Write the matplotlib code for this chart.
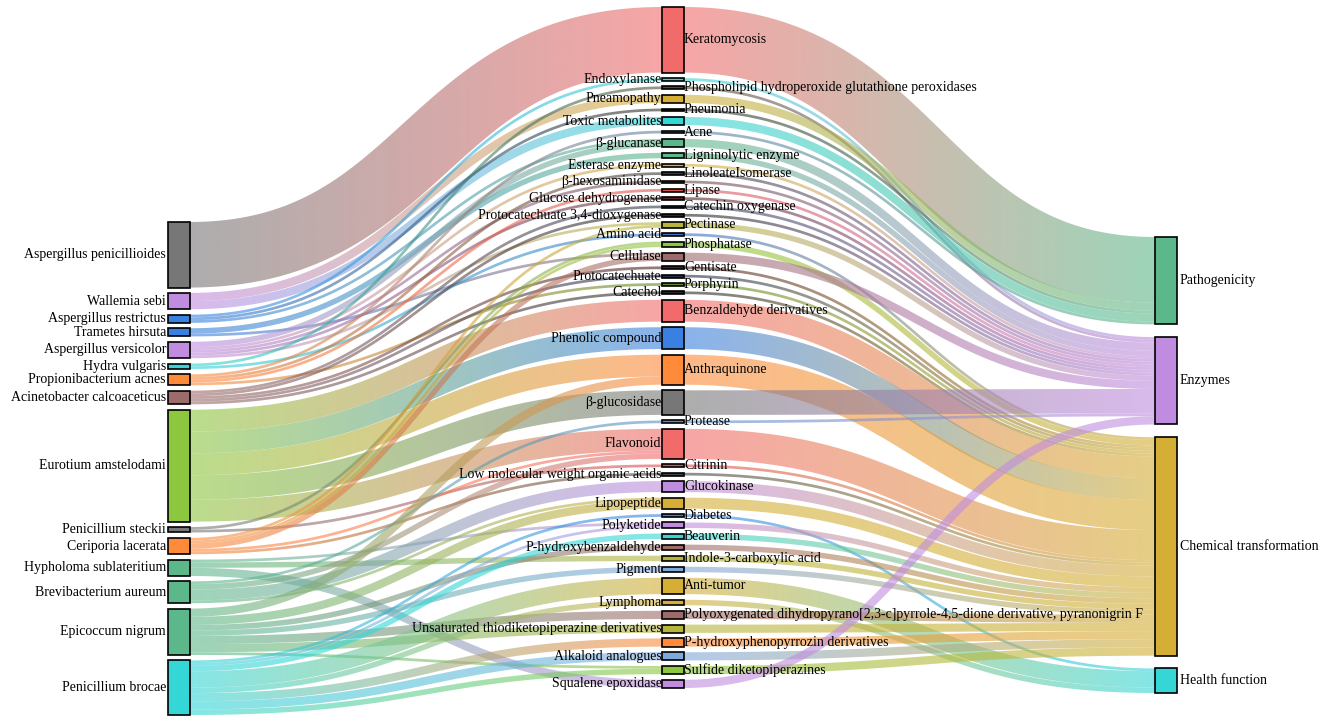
import numpy as np
import matplotlib
matplotlib.use("Agg")
import matplotlib.pyplot as plt
from matplotlib.path import Path
from matplotlib.patches import PathPatch, Rectangle
from matplotlib.colors import to_rgb

# ---------------- data ----------------
left_nodes = ["Aspergillus penicillioides", "Wallemia sebi", "Aspergillus restrictus",
              "Trametes hirsuta", "Aspergillus versicolor", "Hydra vulgaris",
              "Propionibacterium acnes", "Acinetobacter calcoaceticus", "Eurotium amstelodami",
              "Penicillium steckii", "Ceriporia lacerata", "Hypholoma sublateritium",
              "Brevibacterium aureum", "Epicoccum nigrum", "Penicillium brocae"]

middle_nodes = ["Keratomycosis", "Endoxylanase", "Phospholipid hydroperoxide glutathione peroxidases",
                "Pneamopathy", "Pneumonia", "Toxic metabolites", "Acne", "β-glucanase",
                "Ligninolytic enzyme", "Esterase enzyme", "LinoleateIsomerase", "β-hexosaminidase",
                "Lipase", "Glucose dehydrogenase", "Catechin oxygenase",
                "Protocatechuate 3,4-dioxygenase", "Pectinase", "Amino acid", "Phosphatase",
                "Cellulase", "Gentisate", "Protocatechuate", "Porphyrin", "Catechol",
                "Benzaldehyde derivatives", "Phenolic compound", "Anthraquinone", "β-glucosidase",
                "Protease", "Flavonoid", "Citrinin", "Low molecular weight organic acids",
                "Glucokinase", "Lipopeptide", "Diabetes", "Polyketide", "Beauverin",
                "P-hydroxybenzaldehyde", "Indole-3-carboxylic acid", "Pigment", "Anti-tumor",
                "Lymphoma",
                "Polyoxygenated dihydropyrano[2,3-c]pyrrole-4,5-dione derivative, pyranonigrin F",
                "Unsaturated thiodiketopiperazine derivatives", "P-hydroxyphenopyrrozin derivatives",
                "Alkaloid analogues", "Sulfide diketopiperazines", "Squalene epoxidase"]

right_nodes = ["Pathogenicity", "Enzymes", "Chemical transformation", "Health function"]

# organism -> item flows
flow_source = ["Aspergillus penicillioides",
               "Wallemia sebi", "Wallemia sebi",
               "Aspergillus restrictus", "Aspergillus restrictus", "Aspergillus restrictus",
               "Trametes hirsuta", "Trametes hirsuta",
               "Aspergillus versicolor", "Aspergillus versicolor", "Aspergillus versicolor",
               "Aspergillus versicolor", "Aspergillus versicolor",
               "Hydra vulgaris", "Hydra vulgaris",
               "Propionibacterium acnes", "Propionibacterium acnes", "Propionibacterium acnes",
               "Propionibacterium acnes",
               "Acinetobacter calcoaceticus", "Acinetobacter calcoaceticus",
               "Acinetobacter calcoaceticus", "Acinetobacter calcoaceticus",
               "Acinetobacter calcoaceticus",
               "Eurotium amstelodami", "Eurotium amstelodami", "Eurotium amstelodami",
               "Eurotium amstelodami", "Eurotium amstelodami",
               "Penicillium steckii", "Penicillium steckii",
               "Ceriporia lacerata", "Ceriporia lacerata", "Ceriporia lacerata",
               "Ceriporia lacerata", "Ceriporia lacerata",
               "Hypholoma sublateritium", "Hypholoma sublateritium", "Hypholoma sublateritium",
               "Brevibacterium aureum", "Brevibacterium aureum", "Brevibacterium aureum",
               "Brevibacterium aureum",
               "Epicoccum nigrum", "Epicoccum nigrum", "Epicoccum nigrum", "Epicoccum nigrum",
               "Epicoccum nigrum", "Epicoccum nigrum", "Epicoccum nigrum",
               "Penicillium brocae", "Penicillium brocae", "Penicillium brocae",
               "Penicillium brocae", "Penicillium brocae", "Penicillium brocae",
               "Penicillium brocae", "Penicillium brocae"]
flow_target = ["Keratomycosis",
               "Pneamopathy", "Toxic metabolites",
               "Endoxylanase", "Pneumonia", "β-glucanase",
               "Ligninolytic enzyme", "Cellulase",
               "β-glucanase", "Esterase enzyme", "β-hexosaminidase", "Glucose dehydrogenase",
               "Pectinase",
               "Phospholipid hydroperoxide glutathione peroxidases", "Amino acid",
               "Acne", "LinoleateIsomerase", "Lipase", "Porphyrin",
               "Catechin oxygenase", "Protocatechuate 3,4-dioxygenase", "Gentisate",
               "Protocatechuate", "Catechol",
               "Benzaldehyde derivatives", "Phenolic compound", "Anthraquinone", "β-glucosidase",
               "Flavonoid",
               "Phosphatase", "Citrinin",
               "Pectinase", "Phosphatase", "Cellulase", "Flavonoid",
               "Low molecular weight organic acids",
               "Polyketide", "Indole-3-carboxylic acid", "Squalene epoxidase",
               "Protease", "Flavonoid", "Glucokinase", "Lipopeptide",
               "Anthraquinone", "Lipopeptide", "P-hydroxybenzaldehyde", "Pigment",
               "Polyoxygenated dihydropyrano[2,3-c]pyrrole-4,5-dione derivative, pyranonigrin F",
               "Unsaturated thiodiketopiperazine derivatives", "Sulfide diketopiperazines",
               "Diabetes", "Polyketide", "Beauverin", "Anti-tumor", "Lymphoma",
               "P-hydroxyphenopyrrozin derivatives", "Alkaloid analogues",
               "Sulfide diketopiperazines"]
flow_value = [24,
              3, 3,
              1, 1, 1,
              2, 1,
              2, 1, 1, 1, 1,
              1, 1,
              1, 1, 1, 1,
              1, 1, 1, 1, 1,
              8, 8, 8, 9, 8,
              1, 1,
              1, 1, 2, 1, 1,
              1, 2, 3,
              1, 2, 4, 1,
              3, 3, 2, 2, 3, 3, 1,
              1, 1, 2, 6, 2, 3, 3, 2]

# item -> category (whole item flows into its category)
middle_category = ["Pathogenicity", "Enzymes", "Enzymes", "Pathogenicity", "Pathogenicity",
                   "Pathogenicity", "Pathogenicity", "Enzymes", "Enzymes", "Enzymes", "Enzymes",
                   "Enzymes", "Enzymes", "Enzymes", "Enzymes", "Enzymes", "Enzymes",
                   "Chemical transformation", "Chemical transformation", "Enzymes",
                   "Chemical transformation", "Chemical transformation", "Chemical transformation",
                   "Chemical transformation", "Chemical transformation", "Chemical transformation",
                   "Chemical transformation", "Enzymes", "Enzymes", "Chemical transformation",
                   "Chemical transformation", "Chemical transformation", "Chemical transformation",
                   "Chemical transformation", "Health function", "Chemical transformation",
                   "Chemical transformation", "Chemical transformation", "Chemical transformation",
                   "Chemical transformation", "Health function", "Health function",
                   "Chemical transformation", "Chemical transformation", "Chemical transformation",
                   "Chemical transformation", "Chemical transformation", "Enzymes"]

# ---------------- styles ----------------
GREY, PURPLE, BLUE, CYAN = "#777777", "#c08ce0", "#3a80e0", "#34d6d6"
ORANGE, BROWN, YGREEN, GREEN = "#ff8a3a", "#9e6b6b", "#8dc63f", "#5cb88a"
RED, GOLD, OLIVE, LBLUE = "#f26b6b", "#d4ae35", "#b5b53a", "#7fa8dc"

left_colors = [GREY, PURPLE, BLUE, BLUE, PURPLE, CYAN, ORANGE, BROWN, YGREEN, GREY,
               ORANGE, GREEN, GREEN, GREEN, CYAN]
middle_colors = [RED, CYAN, "#4d4d2e", GOLD, "#2e2e22", CYAN, "#5b7fa6", GREEN, GREEN, GOLD,
                 "#3a3a3a", "#6e4a4a", "#e05050", "#5a2424", "#2e3a4e", "#262626", OLIVE,
                 "#3a70c0", YGREEN, BROWN, "#4a2222", "#22304a", "#5e8a24", "#262626",
                 RED, BLUE, ORANGE, GREY, "#5b8fc6", RED, "#e05050", "#444444", PURPLE,
                 GOLD, BLUE, PURPLE, CYAN, BROWN, OLIVE, LBLUE, GOLD, GOLD, BROWN, OLIVE,
                 ORANGE, LBLUE, YGREEN, PURPLE]
right_colors = [GREEN, PURPLE, GOLD, CYAN]

W, H = 1325, 722
col_x = [168, 662, 1155]
node_w = 21.5
col_extent = [(222, 715), (7, 688), (237, 693)]
min_pad = 5.6
link_alpha = 0.6
FONT = "Liberation Serif"
FS = 10

# ---------------- layout ----------------
columns = [left_nodes, middle_nodes, right_nodes]
colors = [left_colors, middle_colors, right_colors]
idx = {}
for c, names in enumerate(columns):
    for i, n in enumerate(names):
        idx[n] = (c, i)

links = []  # (src, dst, value)
for s, t, v in zip(flow_source, flow_target, flow_value):
    links.append((s, t, v))
mid_in = {n: 0 for n in middle_nodes}
for s, t, v in links:
    mid_in[t] += v
for n, cat in zip(middle_nodes, middle_category):
    links.append((n, cat, mid_in[n]))

val_in = {}
val_out = {}
for s, t, v in links:
    val_out[s] = val_out.get(s, 0) + v
    val_in[t] = val_in.get(t, 0) + v
node_val = {n: max(val_in.get(n, 0), val_out.get(n, 0)) for names in columns for n in names}

mid_total = sum(node_val[n] for n in middle_nodes)
top, bot = col_extent[1]
ky = (bot - top - (len(middle_nodes) - 1) * min_pad) / mid_total

node_y = {}
for c, names in enumerate(columns):
    top, bot = col_extent[c]
    tot = sum(node_val[n] for n in names) * ky
    pad = (bot - top - tot) / (len(names) - 1)
    y = top
    for n in names:
        h = node_val[n] * ky
        node_y[n] = (y, y + h)
        y += h + pad

# link offsets
out_links = {}
in_links = {}
for li, (s, t, v) in enumerate(links):
    out_links.setdefault(s, []).append(li)
    in_links.setdefault(t, []).append(li)
ys = {}
yt = {}
for n, lis in out_links.items():
    lis.sort(key=lambda li: node_y[links[li][1]][0])
    y = node_y[n][0]
    for li in lis:
        w = links[li][2] * ky
        ys[li] = y + w / 2
        y += w
for n, lis in in_links.items():
    lis.sort(key=lambda li: node_y[links[li][0]][0])
    y = node_y[n][0]
    for li in lis:
        w = links[li][2] * ky
        yt[li] = y + w / 2
        y += w

# ---------------- draw ----------------
fig = plt.figure(figsize=(W / 100, H / 100), dpi=100)
ax = fig.add_axes([0, 0, 1, 1])
ax.set_xlim(0, W)
ax.set_ylim(H, 0)
ax.axis("off")


def node_color(n):
    c, i = idx[n]
    return colors[c][i]


t = np.linspace(0, 1, 120)
for li, (s, tg, v) in enumerate(links):
    cs, _ = idx[s]
    x0 = col_x[cs] + node_w
    x1 = col_x[cs + 1]
    y0 = ys[li]
    y1 = yt[li]
    w = v * ky
    xm = (x0 + x1) / 2
    bx = (1 - t) ** 3 * x0 + 3 * (1 - t) ** 2 * t * xm + 3 * (1 - t) * t ** 2 * xm + t ** 3 * x1
    by = (1 - t) ** 3 * y0 + 3 * (1 - t) ** 2 * t * y0 + 3 * (1 - t) * t ** 2 * y1 + t ** 3 * y1
    dx = 3 * (1 - t) ** 2 * (xm - x0) + 3 * t ** 2 * (x1 - xm)
    dy = 6 * (1 - t) * t * (y1 - y0)
    nrm = np.hypot(dx, dy)
    nx, ny = -dy / nrm, dx / nrm
    topx, topy = bx + nx * w / 2, by + ny * w / 2
    botx, boty = bx - nx * w / 2, by - ny * w / 2
    px = np.concatenate([topx, botx[::-1]])
    py = np.concatenate([topy, boty[::-1]])
    verts = np.column_stack([px, py])
    path = Path(np.vstack([verts, verts[:1]]), closed=True)
    patch = PathPatch(path, facecolor="none", edgecolor="none", transform=ax.transData)
    c0 = np.array(to_rgb(node_color(s)))
    c1 = np.array(to_rgb(node_color(tg)))
    ncol = 200
    xs_img = np.linspace(x0 - 6, x1 + 6, ncol)
    f = np.clip((xs_img - x0) / (x1 - x0), 0, 1)[:, None]
    rgb = c0 * (1 - f) + c1 * f
    img = np.ones((2, ncol, 4))
    img[:, :, :3] = rgb[None, :, :]
    img[:, :, 3] = link_alpha
    ymin, ymax = py.min() - 2, py.max() + 2
    im = ax.imshow(img, extent=(x0 - 6, x1 + 6, ymax, ymin), aspect="auto",
                   interpolation="bilinear", zorder=1)
    im.set_clip_path(patch)

for c, names in enumerate(columns):
    for i, n in enumerate(names):
        y0, y1 = node_y[n]
        ax.add_patch(Rectangle((col_x[c], y0), node_w, y1 - y0, facecolor=colors[c][i],
                               edgecolor="black", linewidth=1.2, zorder=3))
        yc = (y0 + y1) / 2
        if c == 0:
            ax.text(col_x[c] - 2, yc, n, ha="right", va="center", fontsize=FS,
                    family=FONT, zorder=4)
        elif c == 2:
            ax.text(col_x[c] + node_w + 3, yc, n, ha="left", va="center", fontsize=FS,
                    family=FONT, zorder=4)
        else:
            if i % 2 == 0:
                ax.text(col_x[c] + node_w + 0.5, yc, n, ha="left", va="center", fontsize=FS,
                        family=FONT, zorder=4)
            else:
                ax.text(col_x[c] - 0.5, yc, n, ha="right", va="center", fontsize=FS,
                        family=FONT, zorder=4)

ax.set_xlim(0, W)
ax.set_ylim(H, 0)
fig.savefig("out.png", dpi=100)
